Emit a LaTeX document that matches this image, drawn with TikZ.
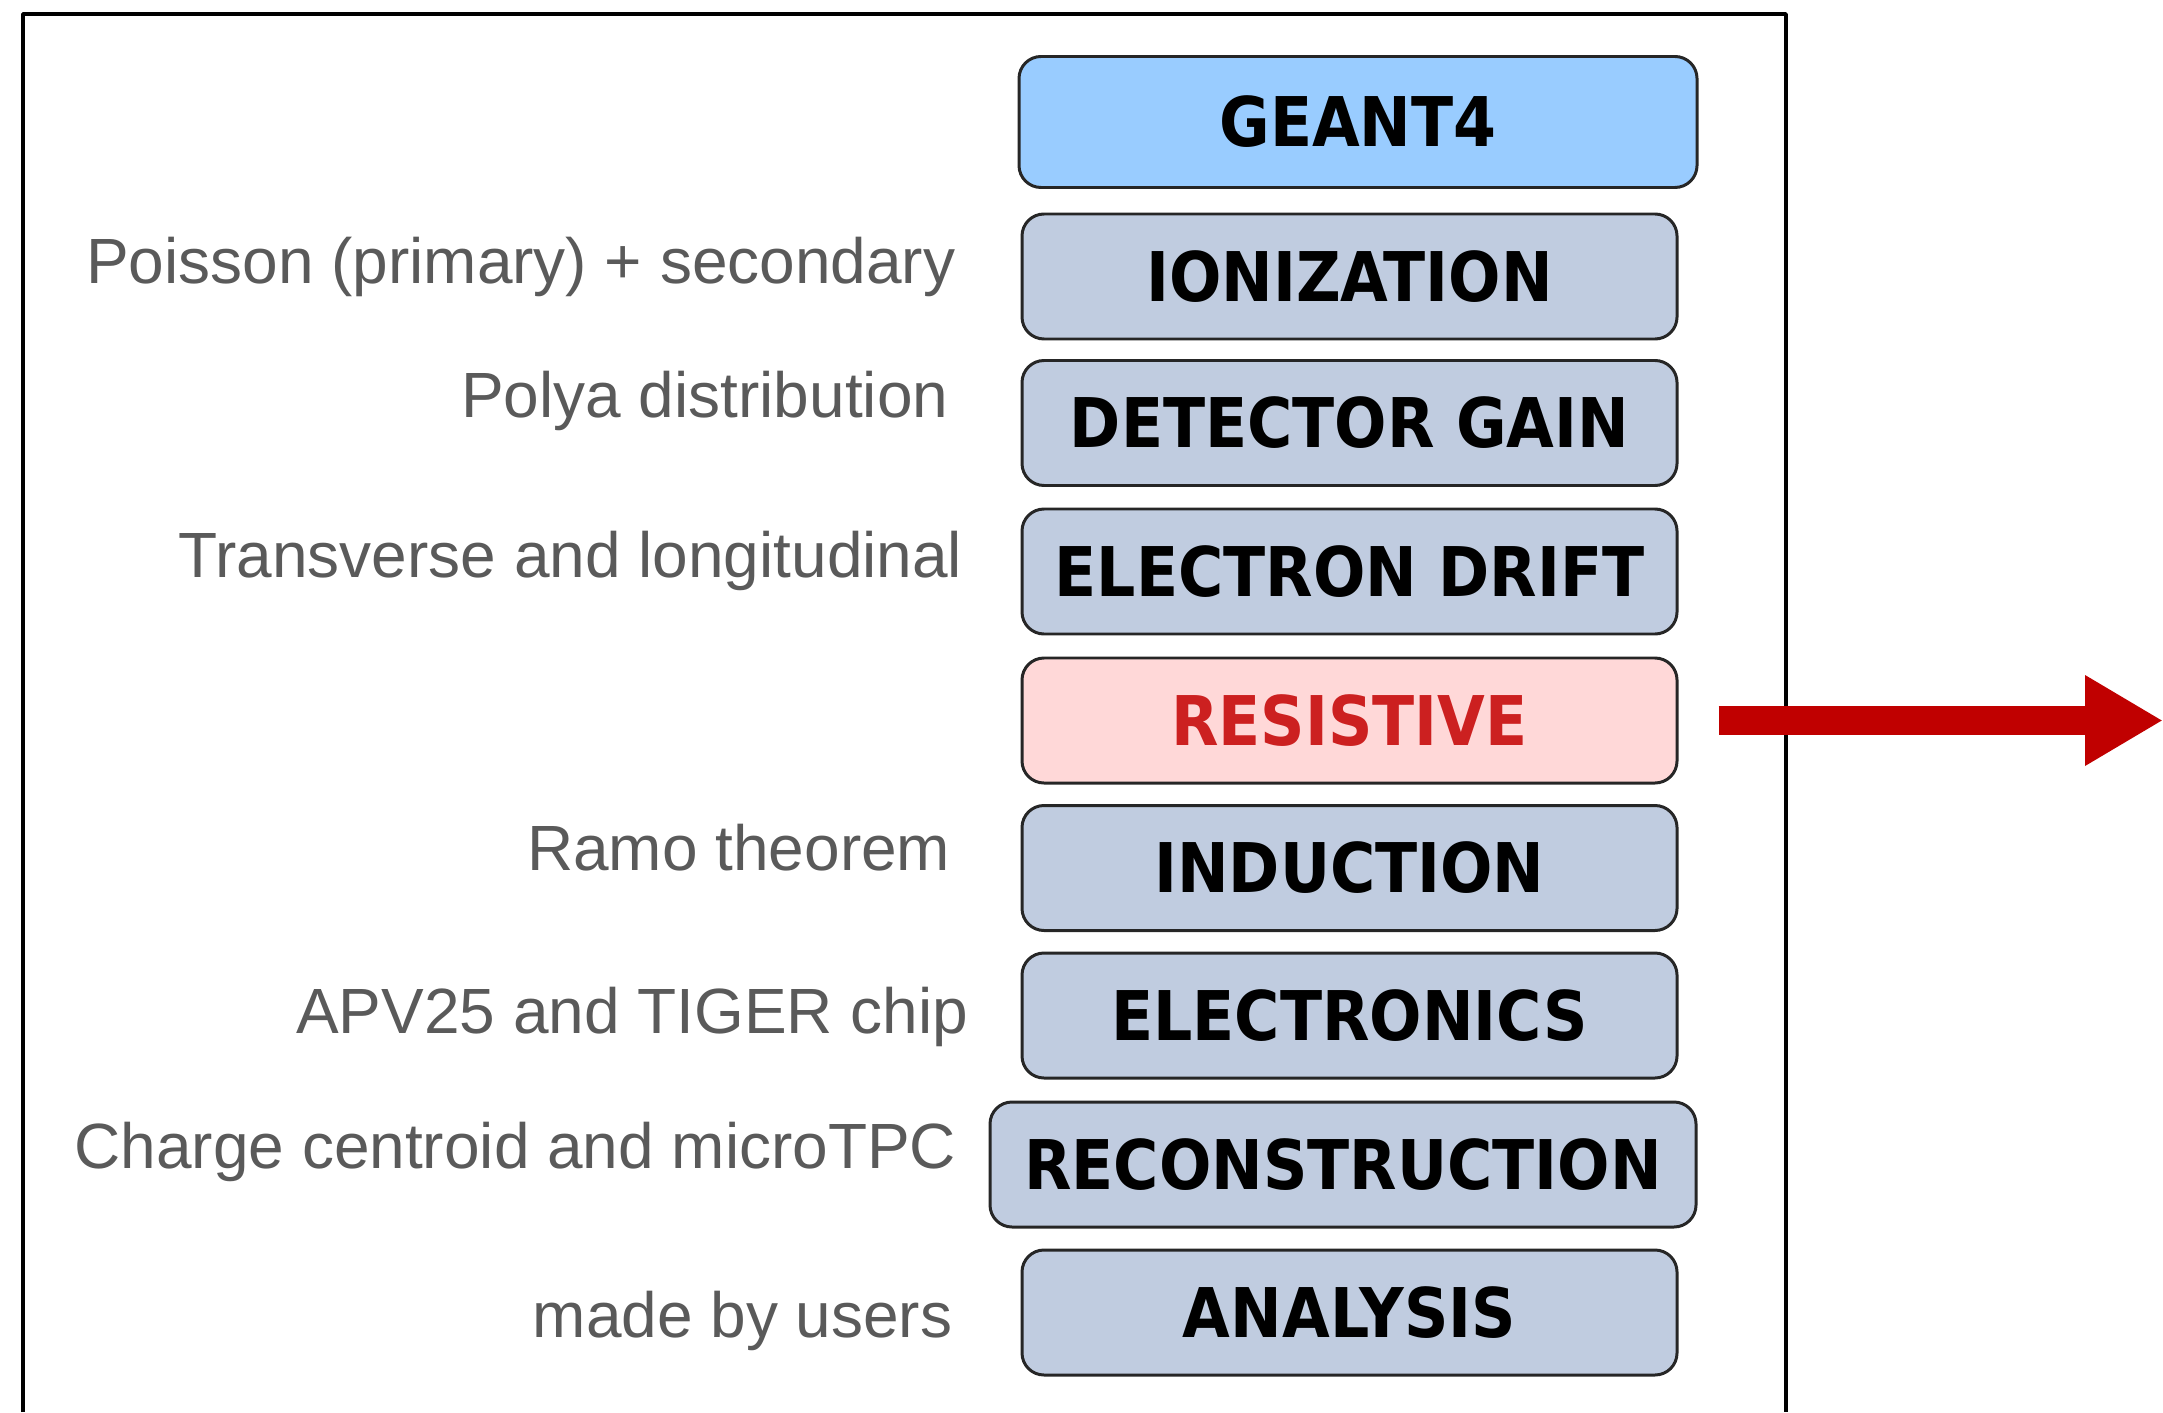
\documentclass[tikz,border=0pt]{standalone}
\usepackage{fontspec}
\setmainfont{Liberation Sans}
\newfontfamily\stagefont{DejaVu Sans}[FakeStretch=0.9]
\usetikzlibrary{arrows.meta}

\definecolor{stageblue}{RGB}{192,204,224}
\definecolor{geantblue}{RGB}{153,204,255}
\definecolor{respink}{RGB}{255,216,216}
\definecolor{resred}{RGB}{204,32,32}
\definecolor{notegray}{RGB}{90,90,90}
\definecolor{arrowred}{RGB}{192,0,0}

\begin{document}
\begin{tikzpicture}[line join=round,
  stage/.style={draw=black!85, line width=0.85pt, rounded corners=2.2mm, fill=stageblue,
    minimum width=6.55cm, minimum height=1.25cm, inner sep=0pt,
    font=\stagefont\bfseries\fontsize{19.5}{23}\selectfont},
  note/.style={anchor=base east, text=notegray, inner sep=0pt,
    font=\fontsize{18.2}{22}\selectfont}]
 \useasboundingbox (0,0) rectangle (21.63,-14.12);
 % open frame, runs off the bottom
 \draw[line width=1pt] (0.23,-14.12) |- (17.86,-0.14) -- (17.86,-14.12);

 % simulation chain
 \node[stage, fill=geantblue, minimum width=6.78cm, minimum height=1.31cm] (geant) at (13.58,-1.22) {GEANT4};
 \foreach \n/\y/\t in {ion/2.765/IONIZATION, gain/4.23/DETECTOR GAIN, drift/5.715/ELECTRON DRIFT,
   ind/8.68/INDUCTION, elec/10.155/ELECTRONICS, ana/13.125/ANALYSIS}
 \node[stage] (\n) at (13.495,-\y) {\t};
 \node[stage, fill=respink, text=resred] (res) at (13.495,-7.205) {RESISTIVE};
 \node[stage, minimum width=7.06cm] (reco) at (13.43,-11.645) {RECONSTRUCTION};

 % what each step uses
 \node[note] (nion) at (9.56,-2.83) {Poisson (primary) + secondary};
 \node[note] (ngain) at (9.49,-4.17) {Polya distribution};
 \node[note] (ndrift) at (9.63,-5.77) {Transverse and longitudinal};
 \node[note] (nind) at (9.51,-8.70) {Ramo theorem};
 \node[note] (nelec) at (9.69,-10.33) {APV25 and TIGER chip};
 \node[note] (nreco) at (9.57,-11.68) {Charge centroid and microTPC};
 \node[note] (nana) at (9.53,-13.37) {made by users};

 \coordinate (out) at (21.63,-7.22);
 \draw[arrowred, line width=2.9mm, -{Triangle[length=7.8mm, width=8.5mm]}]
   ([xshift=4mm]res.east) -- (res.east -| out);
\end{tikzpicture}
\end{document}
